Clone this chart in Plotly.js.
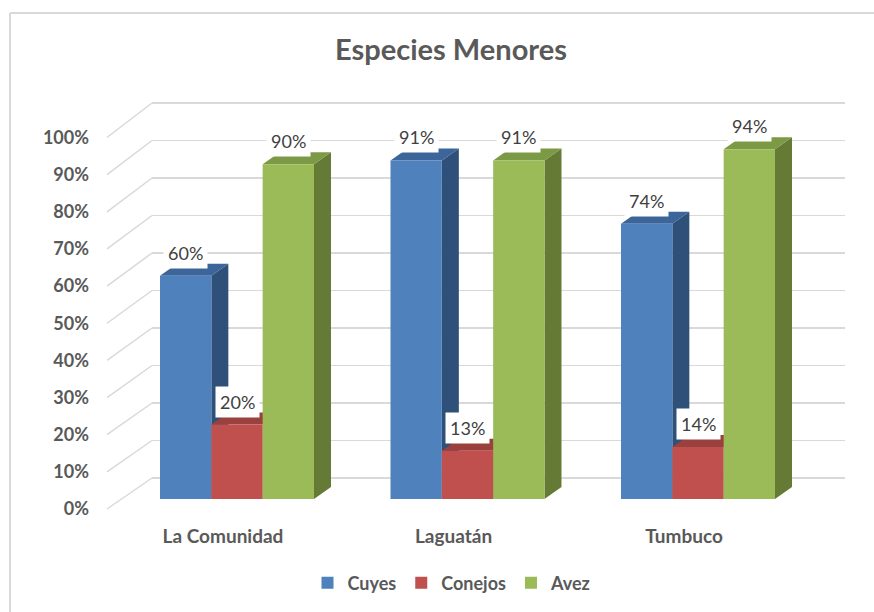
<!DOCTYPE html>
<html>
<head>
<meta charset="utf-8">
<script src="https://cdn.plot.ly/plotly-3.0.1.min.js"></script>
<style>html,body{margin:0;padding:0;background:#fff;}#chart{width:874px;height:612px;}</style>
</head>
<body>
<div id="chart"></div>
<script>
// ---- data ----
var categories = ['La Comunidad', 'Laguatán', 'Tumbuco'];
var seriesNames = ['Cuyes', 'Conejos', 'Avez'];
var cuyes = [0.60, 0.91, 0.74];
var conejos = [0.20, 0.13, 0.14];
var avez = [0.90, 0.91, 0.94];
var yTicks = [0, 0.1, 0.2, 0.3, 0.4, 0.5, 0.6, 0.7, 0.8, 0.9, 1.0];

// ---- styles ----
var frontColors = ['#4F81BD', '#C0504D', '#9BBB59'];
var sideColors = ['#2F5079', '#8C3735', '#647A35'];
var topColors = ['#3C6699', '#9A403D', '#7C9A45'];
var W = 874, H = 612;
var FONT = 'Lato, "Open Sans", sans-serif';
var TXT = '#595959';

function px(p) { return p / W; }
function py(p) { return 1 - p / H; }

// pixel geometry of the three planes
var back = {x0: 152, x1: 845, p0: 478, p1: 103};   // back wall (0% and 100%)
var front = {x: 107, p0: 509, p1: 137.5};          // tick label plane
var bars = {x0: 121.75, x1: 813.25, p0: 499, p1: 127}; // bar front plane
var depthPx = {dx: 17, dy: 12};

var allSeries = [cuyes, conejos, avez];

function yDomain(p0, p1, r0, r1) {
  var s = p0 - p1;
  var pb = p0 - r0 * s, pt = p0 - r1 * s;
  return [py(pb), py(pt)];
}

var bargap = 0.332;
var w = (1 - bargap) / 3;
var catPx = (bars.x1 - bars.x0) / 3;
var dxD = depthPx.dx / catPx;
var dyD = depthPx.dy / (bars.p0 - bars.p1);

var traces = [];
traces.push({x: [0, 1], y: [0, 1], xaxis: 'x', yaxis: 'y', mode: 'markers',
  marker: {opacity: 0}, showlegend: false, hoverinfo: 'skip'});
traces.push({x: [0, 1], y: [0, 1], xaxis: 'x4', yaxis: 'y4', mode: 'markers',
  marker: {opacity: 0}, showlegend: false, hoverinfo: 'skip'});

// 3D faces (side + top) computed from the data values
for (var k = 0; k < 3; k++) {
  var sx = [], sy = [], tx = [], ty = [];
  for (var i = 0; i < categories.length; i++) {
    var v = allSeries[k][i];
    var x0 = i + (k - 1.5) * w, x1 = x0 + w;
    sx.push(x1, x1, x1 + dxD, x1 + dxD, x1, null);
    sy.push(0, v, v + dyD, dyD, 0, null);
    tx.push(x0, x1, x1 + dxD, x0 + dxD, x0, null);
    ty.push(v, v, v + dyD, v + dyD, v, null);
  }
  traces.push({x: sx, y: sy, xaxis: 'x2', yaxis: 'y2', mode: 'lines', fill: 'toself',
    fillcolor: sideColors[k], line: {width: 0, color: sideColors[k]}, showlegend: false, hoverinfo: 'skip'});
  traces.push({x: tx, y: ty, xaxis: 'x2', yaxis: 'y2', mode: 'lines', fill: 'toself',
    fillcolor: topColors[k], line: {width: 0, color: topColors[k]}, showlegend: false, hoverinfo: 'skip'});
}

// front faces: the bars
for (var k2 = 0; k2 < 3; k2++) {
  traces.push({type: 'bar', name: seriesNames[k2], x: categories, y: allSeries[k2],
    xaxis: 'x3', yaxis: 'y3', marker: {color: frontColors[k2], line: {width: 0}},
    hoverinfo: 'name+y'});
}

// data labels
var annotations = [];
for (var k3 = 0; k3 < 3; k3++) {
  for (var j = 0; j < categories.length; j++) {
    var val = allSeries[k3][j];
    annotations.push({xref: 'x3', yref: 'y3', x: j + (k3 - 1) * w, y: val, yshift: 23,
      text: Math.round(val * 100) + '%', showarrow: false, bgcolor: '#ffffff', borderpad: 4,
      font: {family: FONT, size: 18, color: '#404040'}});
  }
}

// diagonal side-wall gridlines + frame
var shapes = [];
yTicks.forEach(function (t) {
  shapes.push({type: 'line', xref: 'paper', yref: 'paper', layer: 'below',
    x0: px(front.x), y0: py(front.p0 - t * (front.p0 - front.p1)),
    x1: px(back.x0), y1: py(back.p0 - t * (back.p0 - back.p1)),
    line: {color: '#d9d9d9', width: 1.5}});
});
shapes.push({type: 'line', xref: 'paper', yref: 'paper', x0: px(10), y0: 0, x1: px(10), y1: py(13),
  line: {color: '#d9d9d9', width: 2}});
shapes.push({type: 'line', xref: 'paper', yref: 'paper', x0: px(10), y0: py(13), x1: 1, y1: py(13),
  line: {color: '#d9d9d9', width: 2}});

var layout = {
  width: W, height: H,
  margin: {l: 0, r: 0, t: 0, b: 0},
  paper_bgcolor: '#ffffff', plot_bgcolor: 'rgba(0,0,0,0)',
  title: {text: 'Especies Menores', x: px(451), xanchor: 'center', xref: 'paper',
    y: py(50), yanchor: 'middle', yref: 'paper',
    font: {family: FONT, size: 29, color: TXT, weight: 'bold'}},
  barmode: 'group', bargap: bargap, bargroupgap: 0,
  showlegend: true,
  legend: {orientation: 'h', x: px(452), xanchor: 'center', y: py(583), yanchor: 'middle',
    font: {family: FONT, size: 18, color: TXT, weight: 'bold'}, itemwidth: 30, traceorder: 'normal'},
  xaxis: {domain: [px(back.x0), px(back.x1)], range: [0, 1], visible: false, fixedrange: true},
  yaxis: {domain: yDomain(back.p0, back.p1, -0.01, 1.01), range: [-0.01, 1.01], showgrid: true,
    gridcolor: '#d9d9d9', gridwidth: 1.5, dtick: 0.1, tick0: 0, showticklabels: false,
    zeroline: false, showline: false, ticks: '', fixedrange: true},
  xaxis2: {domain: [px(bars.x0), px(bars.x1)], range: [-0.5, 2.5], visible: false, anchor: 'y2', fixedrange: true},
  yaxis2: {domain: yDomain(bars.p0, bars.p1, 0, 1), range: [0, 1], visible: false, anchor: 'x2', fixedrange: true},
  xaxis3: {domain: [px(bars.x0), px(bars.x1)], range: [-0.5, 2.5], type: 'category', anchor: 'y3',
    showgrid: false, zeroline: false, showline: false, ticks: '',
    tickfont: {family: FONT, size: 19, color: TXT, weight: 'bold'},
    ticklabelshift: -14, ticklabelstandoff: 24, fixedrange: true},
  yaxis3: {domain: yDomain(bars.p0, bars.p1, 0, 1), range: [0, 1], visible: false, anchor: 'x3', fixedrange: true},
  xaxis4: {domain: [px(front.x), px(front.x + 20)], range: [0, 1], visible: false, anchor: 'y4', fixedrange: true},
  yaxis4: {domain: yDomain(front.p0, front.p1, -0.01, 1.01), range: [-0.01, 1.01], anchor: 'x4',
    showgrid: false, zeroline: false, showline: false, ticks: '', tickvals: yTicks, tickformat: '.0%',
    tickfont: {family: FONT, size: 18, color: TXT, weight: 'bold'}, ticklabelstandoff: 17, fixedrange: true},
  annotations: annotations,
  shapes: shapes
};

Plotly.newPlot('chart', traces, layout, {displayModeBar: false, staticPlot: true});
</script>
</body>
</html>
